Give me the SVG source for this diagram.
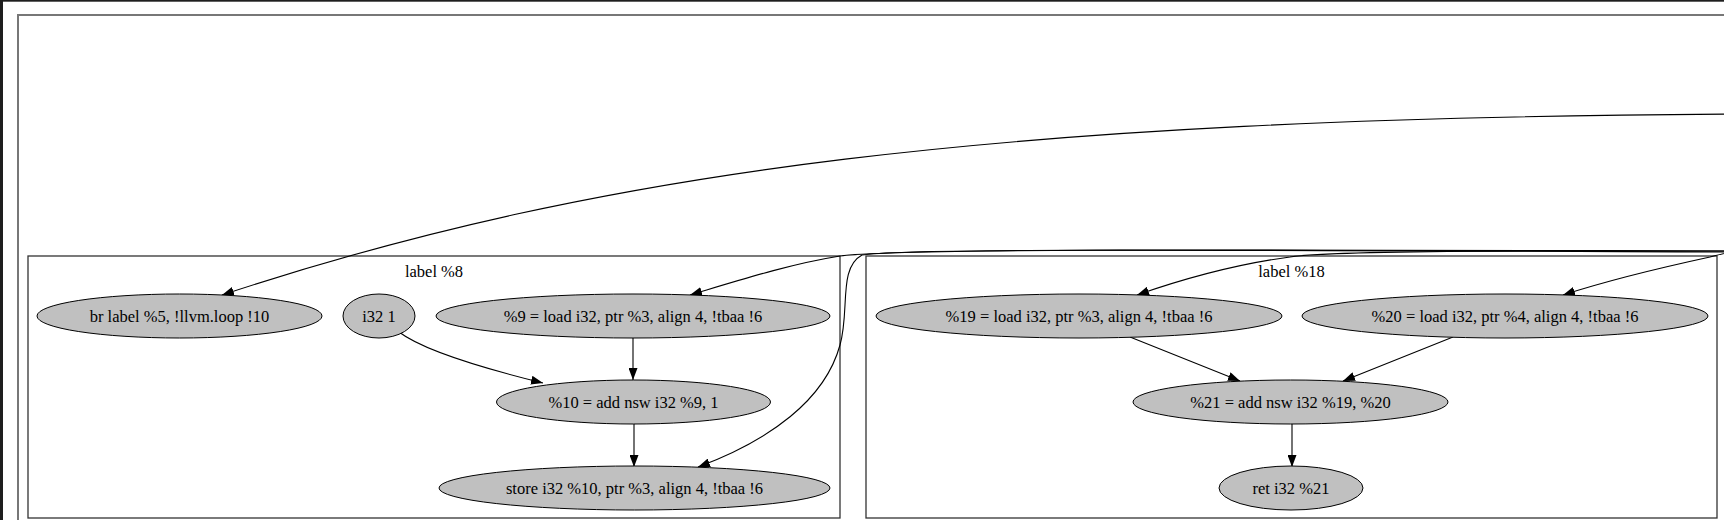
<svg xmlns="http://www.w3.org/2000/svg" width="1724" height="520" viewBox="0 0 1724 520">
<defs>
<style>
.node ellipse{fill:#c0c0c0;stroke:#000;stroke-width:1}
text{font-family:"Liberation Serif","Times New Roman",serif;font-size:16.5px;fill:#000;text-anchor:middle}
.cluster rect{fill:none;stroke:#333;stroke-width:1.3}
.edges path{fill:none;stroke:#000;stroke-width:1.1;marker-end:url(#arr)}
</style>
<marker id="arr" markerUnits="userSpaceOnUse" markerWidth="12" markerHeight="9" refX="12" refY="4.5" orient="auto">
<path d="M0,0 L12,4.5 L0,9 z" fill="#000"/>
</marker>
</defs>
<rect x="0" y="0" width="1724" height="520" fill="#fff"/>
<rect x="0" y="0" width="3" height="520" fill="#1e1e1e"/>
<rect x="0" y="0" width="1724" height="1.7" fill="#1e1e1e"/>
<rect x="18" y="15" width="1800" height="600" fill="none" stroke="#777" stroke-width="2"/>
<g id="cluster_8" class="cluster">
<rect x="28" y="256" width="812" height="262"/>
<text x="434" y="277">label %8</text>
</g>
<g id="cluster_18" class="cluster">
<rect x="866" y="256" width="851" height="262"/>
<text x="1291.5" y="277">label %18</text>
</g>
<g id="edges" class="edges">
<path d="M1740,114 C1000,118 600,170 222,295"/>
<path d="M1740,251 C1300,250 900,248 840,256 C790,264 740,280 690,295"/>
<path d="M1740,252 C1200,250 900,248 862,255 C838,268 850,310 840,345 C825,400 770,440 698,467"/>
<path d="M1740,251 C1500,250 1320,252 1290,257 C1230,265 1180,280 1137,295"/>
<path d="M1740,250 C1725,253 1718,255 1710,257 C1650,270 1600,283 1563,295"/>
<path d="M399,332 C420,348 470,365 543,383"/>
<path d="M633,338 L633,380"/>
<path d="M634,424 L634,467"/>
<path d="M1130,337 L1240,381"/>
<path d="M1453,337 L1343,381"/>
<path d="M1292,424 L1292,467"/>
</g>
<g id="n_br" class="node"><ellipse cx="179.5" cy="316" rx="142.5" ry="22"/><text x="179.5" y="321.5">br label %5, !llvm.loop !10</text></g>
<g id="n_i32_1" class="node"><ellipse cx="379" cy="316" rx="36" ry="22"/><text x="379" y="321.5">i32 1</text></g>
<g id="n_9" class="node"><ellipse cx="633" cy="316" rx="197" ry="22"/><text x="633" y="321.5">%9 = load i32, ptr %3, align 4, !tbaa !6</text></g>
<g id="n_10" class="node"><ellipse cx="633.5" cy="402" rx="137" ry="22"/><text x="633.5" y="407.5">%10 = add nsw i32 %9, 1</text></g>
<g id="n_store" class="node"><ellipse cx="634.5" cy="488" rx="195.5" ry="22"/><text x="634.5" y="493.5">store i32 %10, ptr %3, align 4, !tbaa !6</text></g>
<g id="n_19" class="node"><ellipse cx="1079" cy="316" rx="203" ry="22"/><text x="1079" y="321.5">%19 = load i32, ptr %3, align 4, !tbaa !6</text></g>
<g id="n_20" class="node"><ellipse cx="1505" cy="316" rx="203" ry="22"/><text x="1505" y="321.5">%20 = load i32, ptr %4, align 4, !tbaa !6</text></g>
<g id="n_21" class="node"><ellipse cx="1290.5" cy="402" rx="157.5" ry="22"/><text x="1290.5" y="407.5">%21 = add nsw i32 %19, %20</text></g>
<g id="n_ret" class="node"><ellipse cx="1291" cy="488" rx="72" ry="22"/><text x="1291" y="493.5">ret i32 %21</text></g>
</svg>
